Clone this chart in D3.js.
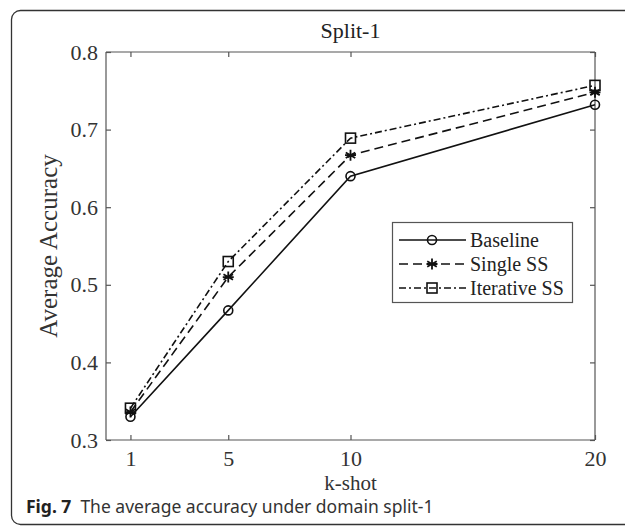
<!DOCTYPE html>
<html>
<head>
<meta charset="utf-8">
<script src="https://cdn.jsdelivr.net/npm/d3@7"></script>
<style>
  body { margin: 0; background: #fff; }
  #chart { width: 625px; height: 528px; }
</style>
</head>
<body>
<div id="chart"></div>
<script>
// data
const shots = [1, 5, 10, 20];
const yTicks = [0.3, 0.4, 0.5, 0.6, 0.7, 0.8];
const baseline = [0.330, 0.467, 0.640, 0.732];
const singleSS = [0.336, 0.510, 0.667, 0.748];
const iterativeSS = [0.341, 0.530, 0.689, 0.757];
const seriesNames = ["Baseline", "Single SS", "Iterative SS"];

const width = 625, height = 528;
const marginLeft = 106, marginRight = 30, marginTop = 52, marginBottom = 88;

const svg = d3.select("#chart").append("svg")
    .attr("width", width)
    .attr("height", height);

// outer frame with rounded corners (right edge runs off the page)
svg.append("rect")
    .attr("x", 11.5).attr("y", 10.5)
    .attr("width", 640).attr("height", 514)
    .attr("rx", 9)
    .attr("fill", "none")
    .attr("stroke", "#333")
    .attr("stroke-width", 1.3);

const x = d3.scaleLinear().domain([0, 20]).range([marginLeft, width - marginRight]);
const y = d3.scaleLinear().domain([0.3, 0.8]).range([height - marginBottom, marginTop]);

const serif = "'Liberation Serif', 'Times New Roman', serif";
const axisColor = "#555";

// axes, MATLAB style: box with inward ticks
const axBottom = svg.append("g")
    .attr("transform", `translate(0,${y(0.3)})`)
    .call(d3.axisBottom(x).tickValues(shots).tickSize(-5).tickPadding(10));
const axTop = svg.append("g")
    .attr("transform", `translate(0,${y(0.8)})`)
    .call(d3.axisTop(x).tickValues(shots).tickSize(-5).tickFormat(""));
const axLeft = svg.append("g")
    .attr("transform", `translate(${x(0)},0)`)
    .call(d3.axisLeft(y).tickValues(yTicks).tickSize(-5).tickPadding(8).tickFormat(d3.format(".1f")));
const axRight = svg.append("g")
    .attr("transform", `translate(${x(20)},0)`)
    .call(d3.axisRight(y).tickValues(yTicks).tickSize(-5).tickFormat(""));

[axBottom, axTop, axLeft, axRight].forEach(g => {
    g.selectAll("path, line").attr("stroke", axisColor).attr("stroke-width", 1.2);
    g.selectAll("text").attr("fill", "#333").style("font-family", serif).style("font-size", "22px");
});
axBottom.select(".domain").attr("d", `M${x(0)},0H${x(20)}`);
axTop.select(".domain").attr("d", `M${x(0)},0H${x(20)}`);
axLeft.select(".domain").attr("d", `M0,${y(0.3)}V${y(0.8)}`);
axRight.select(".domain").attr("d", `M0,${y(0.3)}V${y(0.8)}`);

// labels
svg.append("text")
    .attr("x", x(10)).attr("y", 489.5)
    .attr("text-anchor", "middle")
    .style("font-family", serif).style("font-size", "21px").attr("fill", "#333")
    .text("k-shot");

svg.append("text")
    .attr("transform", `translate(57,${(y(0.3) + y(0.8)) / 2}) rotate(-90)`)
    .attr("text-anchor", "middle")
    .style("font-family", serif).style("font-size", "25px").attr("fill", "#333")
    .text("Average Accuracy");

svg.append("text")
    .attr("x", (x(0) + x(20)) / 2).attr("y", 38)
    .attr("text-anchor", "middle")
    .style("font-family", serif).style("font-size", "22px").attr("fill", "#222")
    .text("Split-1");

// series
const series = [
    { name: seriesNames[0], values: baseline, dash: null, marker: "circle" },
    { name: seriesNames[1], values: singleSS, dash: "9,5", marker: "star" },
    { name: seriesNames[2], values: iterativeSS, dash: "7,3,2,3", marker: "square" }
];

const line = d3.line()
    .x((d, i) => x(shots[i]))
    .y(d => y(d));

function drawMarker(g, type, cx, cy) {
    if (type === "circle") {
        g.append("circle").attr("cx", cx).attr("cy", cy).attr("r", 4.5)
            .attr("fill", "none").attr("stroke", "#111").attr("stroke-width", 1.6);
    } else if (type === "square") {
        g.append("rect").attr("x", cx - 5).attr("y", cy - 5).attr("width", 10).attr("height", 10)
            .attr("fill", "none").attr("stroke", "#111").attr("stroke-width", 1.6);
    } else {
        const r = 5.5;
        const p = [0, 60, 120].map(a => {
            const t = a * Math.PI / 180;
            return `M${cx - r * Math.sin(t)},${cy - r * Math.cos(t)}L${cx + r * Math.sin(t)},${cy + r * Math.cos(t)}`;
        }).join("") + `M${cx - r},${cy}L${cx + r},${cy}`;
        g.append("path").attr("d", p).attr("stroke", "#111").attr("stroke-width", 1.8);
    }
}

series.forEach(s => {
    svg.append("path")
        .datum(s.values)
        .attr("fill", "none")
        .attr("stroke", "#111")
        .attr("stroke-width", 1.6)
        .attr("stroke-dasharray", s.dash)
        .attr("d", line);
    const g = svg.append("g");
    s.values.forEach((v, i) => drawMarker(g, s.marker, x(shots[i]), y(v)));
});

// legend
const legend = svg.append("g");
legend.append("rect")
    .attr("x", 392.5).attr("y", 222.5).attr("width", 180).attr("height", 80)
    .attr("fill", "#fff").attr("stroke", "#555").attr("stroke-width", 1.2);
series.forEach((s, i) => {
    const ly = 240 + i * 24;
    legend.append("line")
        .attr("x1", 399).attr("x2", 466).attr("y1", ly).attr("y2", ly)
        .attr("stroke", "#111").attr("stroke-width", 1.6)
        .attr("stroke-dasharray", s.dash);
    drawMarker(legend, s.marker, 432, ly);
    legend.append("text")
        .attr("x", 470).attr("y", ly + 7)
        .style("font-family", serif).style("font-size", "20px").attr("fill", "#222")
        .text(s.name);
});

// caption
const cap = svg.append("text")
    .attr("x", 26).attr("y", 513)
    .style("font-family", "'Noto Sans', 'Open Sans', sans-serif").style("font-size", "17.5px")
    .attr("fill", "#333");
cap.append("tspan").style("font-weight", "bold").attr("fill", "#222").text("Fig. 7");
cap.append("tspan").attr("dx", 9).text("The average accuracy under domain split-1");
</script>
</body>
</html>
